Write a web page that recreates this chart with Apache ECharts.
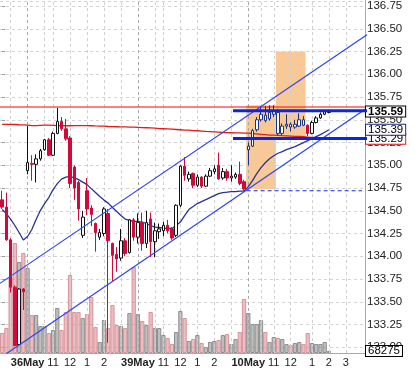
<!DOCTYPE html>
<html><head><meta charset="utf-8">
<script src="https://cdn.jsdelivr.net/npm/echarts@6/dist/echarts.min.js"></script>
<style>html,body{margin:0;padding:0;background:#fff;overflow:hidden}#c{width:417px;height:370px}</style>
</head><body><div id="c"></div>
<script>
// ---- data ----
const slotCount = 86;
const opens  = [134.62,134.54,134.18,133.66,133.03,133.64,134.94,135.02,135.01,135.07,135.17,135.28,135.11,135.35,135.48,135.40,135.30,134.98,134.81,134.23,134.72,134.53,134.36,134.21,134.25,134.47,134.14,134.02,133.98,134.17,134.04,134.40,134.21,134.37,134.14,134.41,134.16,134.27,134.28,134.34,134.30,134.23,134.56,134.99,134.85,134.91,134.78,134.87,134.77,134.88,134.93,135.00,134.86,134.93,134.86,134.87,134.90,134.82,135.17,135.21,135.39,135.50,135.55,135.51,135.56,135.58,135.35,135.43,135.45,135.42,135.43,135.50,135.44,135.35,135.47,135.52,135.56,135.58];
const closes = [134.54,134.18,133.66,133.02,133.64,133.61,135.03,135.01,135.07,135.16,135.28,135.11,135.35,135.48,135.40,135.29,134.80,134.75,134.52,134.43,134.52,134.46,134.26,134.26,134.52,134.17,134.01,133.97,134.17,134.03,134.40,134.21,134.37,134.14,134.37,134.16,134.28,134.30,134.34,134.28,134.20,134.56,134.99,134.89,134.90,134.78,134.87,134.77,134.88,134.94,134.96,134.85,134.93,134.86,134.88,134.90,134.80,134.74,135.21,135.38,135.50,135.56,135.49,135.58,135.60,135.35,135.43,135.45,135.42,135.45,135.50,135.44,135.35,135.47,135.52,135.56,135.59,135.59];
const lows   = [134.52,134.17,133.60,133.01,133.02,133.41,134.90,134.83,134.81,135.05,135.16,135.10,135.10,135.34,135.38,135.27,134.75,134.62,134.39,134.20,134.45,134.33,134.05,134.18,134.22,133.05,133.72,133.83,133.95,134.00,134.03,134.17,134.14,134.06,134.09,133.99,133.99,134.19,134.22,134.25,134.18,134.21,134.54,134.83,134.82,134.75,134.76,134.75,134.76,134.87,134.90,134.84,134.84,134.83,134.82,134.85,134.78,134.72,135.00,135.20,135.37,135.48,135.47,135.49,135.53,135.33,135.33,135.40,135.37,135.40,135.42,135.43,135.32,135.34,135.46,135.51,135.55,135.57];
const highs  = [134.72,134.70,134.20,133.68,133.65,133.65,135.43,135.11,135.12,135.18,135.29,135.30,135.37,135.63,135.53,135.51,135.32,135.00,134.83,134.50,134.86,134.56,134.37,134.30,134.54,134.52,134.15,134.10,134.30,134.20,134.41,134.42,134.47,134.48,134.50,134.48,134.37,134.36,134.38,134.40,134.32,134.57,135.00,135.09,134.93,134.92,134.90,134.88,134.90,134.97,135.00,135.14,134.97,134.96,135.00,134.92,135.04,134.84,135.25,135.40,135.53,135.65,135.65,135.66,135.66,135.62,135.46,135.56,135.47,135.50,135.57,135.54,135.45,135.49,135.54,135.58,135.61,135.61];
const volumes = [682800,853400,2594500,3755100,3106500,3413800,2901700,1297200,1297200,921700,921700,682800,785200,1536200,785200,1399600,2662700,1399600,1399600,1194800,1331400,1911700,887600,375500,1126500,853400,1638600,955900,921700,853400,1365500,2935800,1331400,1092400,955900,1399600,853400,853400,614500,512100,307200,716900,1433800,1194800,409700,477900,614500,341400,204800,375500,409700,443800,614500,648600,307200,477900,716900,1843400,1365500,990000,990000,1126500,716900,375500,546200,512100,477900,307200,273100,341400,375500,307200,682800,341400,307200,307200,375500,68275];
const maShort = [134.513,134.469,134.409,134.338,134.261,134.179,134.217,134.294,134.404,134.502,134.579,134.645,134.732,134.798,134.848,134.870,134.875,134.864,134.842,134.815,134.787,134.743,134.700,134.656,134.617,134.584,134.535,134.491,134.447,134.409,134.393,134.387,134.382,134.376,134.360,134.338,134.321,134.316,134.310,134.305,134.305,134.338,134.376,134.447,134.513,134.546,134.579,134.601,134.623,134.645,134.667,134.689,134.700,134.705,134.711,134.711,134.716,134.716,134.765,134.831,134.908,134.974,135.028,135.072,135.105,135.132,135.149,135.171,135.187,135.204,135.226,135.248,135.270,135.292,135.314,135.336,135.363,135.390];
const maLong = [135.450,135.450,135.449,135.448,135.445,135.443,135.440,135.436,135.436,135.438,135.440,135.440,135.438,135.436,135.434,135.434,135.434,135.435,135.436,135.436,135.435,135.434,135.432,135.431,135.429,135.426,135.424,135.423,135.422,135.421,135.420,135.418,135.416,135.414,135.412,135.410,135.407,135.403,135.401,135.399,135.396,135.393,135.390,135.387,135.385,135.381,135.379,135.376,135.372,135.369,135.366,135.363,135.360,135.358,135.357,135.356,135.355,135.354,135.352,135.348,135.344,135.340,135.336,135.332,135.330,135.328,135.325,135.323,135.321,135.318,135.316,135.313,135.310,135.307,135.303,135.299,135.295,135.290];
// tick labels (slot index -> text)
const tickIndex = [6,12,16,20,24,32,38,42,46,50,58,64,68,73,77,81];
const tickText  = ['36May','11','12','1','2','39May','11','12','1','2','10May','11','12','1','2','3'];
const dayIndex  = [6,32,58];
const hourGrid  = [2,10,12,16,20,24,28,36,38,42,46,50,54,61,64,68,73,77,81];
// drawn objects (slot index, price)
const boxes = [[58,64,134.74,135.66],[65,71,135.31,136.25]];
const channelUpper = [[-0.5,133.702],[86.7,136.457]];
const channelLower = [[1.08,132.931],[88.8,135.719]];
const levelHigh = [[-0.5,135.64],[85.5,135.64]];
const bandTop = [[54.4,135.60],[87.9,135.60]];
const bandBottom = [[54.4,135.295],[89.0,135.295]];
const prevLow = [[57.6,134.72],[84.8,134.72]];
const lastClose = 135.59, lastShort = 135.39, lastLong = 135.29, lastVol = 68275;
const navyFrom = 58, navyTo = 71;

// ---- build ----
const cats = Array.from({length: slotCount}, (_, i) => String(i));
const labelMap = {}; tickIndex.forEach((k, j) => labelMap[k] = tickText[j]);
const RED = '#d20a3c';
const candleData = opens.map((o, i) => {
  const item = {value: [o, closes[i], lows[i], highs[i]]};
  if (i >= navyFrom && i <= navyTo) item.itemStyle = {color: '#fff', borderColor: '#1c3385', color0: RED, borderColor0: RED};
  return item;
});
const volData = volumes.map((v, i) => ({
  value: v,
  itemStyle: closes[i] < opens[i]
    ? {color: 'rgba(222,122,132,0.5)', borderColor: '#d8949b'}
    : {color: 'rgba(128,128,128,0.5)', borderColor: '#8f8f8f'}
}));
const PX = 91.2; // px per price unit
const VOL_PER_PX = 68275 / 2;
const chart = echarts.init(document.getElementById('c'), null, {renderer: 'canvas'});
const NOLINE = {color: 'rgba(0,0,0,0)', width: 1, opacity: 1};
const boxLabel = (color, bold, digits) => ({
  show: true, position: 'end', distance: 1, formatter: p => Number(p.value).toFixed(digits),
  backgroundColor: '#fff', borderColor: color, borderWidth: 1, padding: [0, 2, 0, 2], lineHeight: 10, opacity: 1,
  fontSize: 11.5, fontFamily: 'Liberation Sans', fontWeight: bold ? 'bold' : 'normal', color: '#000'
});
const gridLines = hourGrid.map(i => ({xAxis: i, lineStyle: {color: '#cfcfcf', type: [3, 3], width: 1}, label: {show: false}}))
  .concat(dayIndex.map(i => ({xAxis: i, lineStyle: {color: '#a8a8a8', type: [3, 3], width: 1}, label: {show: false}})));
const overlay = (data, color, width, type, z) => ({
  type: 'line', xAxisIndex: 2, yAxisIndex: 0, data, clip: false, showSymbol: false, z,
  lineStyle: {color, width, type: type || 'solid'}, silent: true
});
const valueTag = (value, color, bold, digits, z, axisIdx) => ({
  type: 'line', xAxisIndex: axisIdx === 1 ? 1 : 0, yAxisIndex: axisIdx === 1 ? 1 : 0, data: [], clip: false, silent: true, z,
  markLine: {silent: true, symbol: ['none', 'none'], z, lineStyle: NOLINE,
    data: [{yAxis: value, lineStyle: NOLINE, label: boxLabel(color, bold, digits)}]}
});

chart.setOption({
  animation: false,
  textStyle: {fontFamily: 'Liberation Sans'},
  grid: [
    {left: 0, right: 52, top: 0, bottom: 0},
    {left: 0, right: 52, top: 0, bottom: 17}
  ],
  xAxis: [
    {type: 'category', gridIndex: 0, data: cats, show: false, boundaryGap: true},
    {type: 'category', gridIndex: 1, data: cats, boundaryGap: true,
     axisLine: {lineStyle: {color: '#a9a9a9'}}, axisTick: {show: false}, splitLine: {show: false},
     axisLabel: {interval: (i) => labelMap[i] !== undefined, margin: 4, fontSize: 11, color: '#222',
       formatter: (v, i) => { const t = labelMap[i]; if (t === undefined) return ''; return dayIndex.includes(i) ? '{b|' + t + '}' : t; },
       rich: {b: {fontWeight: 'bold', fontSize: 11, color: '#222', fontFamily: 'Liberation Sans'}}}},
    {type: 'value', gridIndex: 0, min: -0.5, max: slotCount - 0.5, show: false, splitLine: {show: false}}
  ],
  yAxis: [
    {type: 'value', gridIndex: 0, position: 'right', min: 132.75, max: 132.75 + 370 / PX, interval: 0.25, scale: true,
     axisLine: {show: false}, axisTick: {show: true, length: 3, lineStyle: {color: '#999'}},
     axisLabel: {margin: 2, fontSize: 11.5, color: '#222', showMinLabel: false, showMaxLabel: false, formatter: v => v.toFixed(2)},
     splitLine: {show: true, showMinLine: false, lineStyle: {color: '#d4d4d4', type: [3, 3]}}},
    {type: 'value', gridIndex: 1, position: 'right', min: 0, max: 353 * VOL_PER_PX,
     axisLine: {show: true, onZero: false, lineStyle: {color: '#a9a9a9'}}, axisTick: {show: false},
     axisLabel: {show: false}, splitLine: {show: false}}
  ],
  series: [
    {type: 'bar', name: 'vol', xAxisIndex: 1, yAxisIndex: 1, data: volData, barWidth: '100%', barGap: '0%',
     itemStyle: {borderWidth: 1}, z: 1,
     markLine: {silent: true, symbol: ['none', 'none'], z: 3, data: gridLines}},
    {type: 'custom', xAxisIndex: 2, yAxisIndex: 0, data: boxes, clip: false, z: 1, silent: true,
     encode: {x: [0, 1], y: [2, 3]},
     renderItem: (params, api) => {
       const a = api.coord([api.value(0) - 0.5, api.value(3)]);
       const b = api.coord([api.value(1) + 0.5, api.value(2)]);
       return {type: 'rect', shape: {x: a[0], y: a[1], width: b[0] - a[0], height: b[1] - a[1]},
               style: {fill: '#f8c996'}};
     }},
    {type: 'line', name: 'maLong', xAxisIndex: 0, yAxisIndex: 0, data: maLong, showSymbol: false, z: 3,
     lineStyle: {color: '#e31b1b', width: 1.3}},
    {type: 'line', name: 'maShort', xAxisIndex: 0, yAxisIndex: 0, data: maShort, showSymbol: false, z: 3,
     lineStyle: {color: '#2a3290', width: 1.3}},
    overlay(levelHigh, '#ff0000', 1, 'solid', 3),
    {type: 'candlestick', xAxisIndex: 0, yAxisIndex: 0, data: candleData, barWidth: 3, z: 4,
     itemStyle: {color: '#fff', borderColor: '#111', color0: RED, borderColor0: RED, borderWidth: 1}},
    overlay(channelUpper, '#3045ee', 1.2, 'solid', 5),
    overlay(channelLower, '#3045ee', 1.2, 'solid', 5),
    overlay(prevLow, '#1a2fe0', 1.2, [4, 3], 5),
    valueTag(lastLong, '#e31b1b', false, 2, 6, 0),
    valueTag(lastShort, '#1c2a80', false, 2, 7, 0),
    valueTag(lastClose, '#000', true, 2, 8, 0),
    valueTag(lastVol, '#000', false, 0, 12, 1),
    overlay(bandTop, '#0a26e0', 3, 'solid', 10),
    overlay(bandBottom, '#0a26e0', 3, 'solid', 10)
  ]
});
</script></body></html>
